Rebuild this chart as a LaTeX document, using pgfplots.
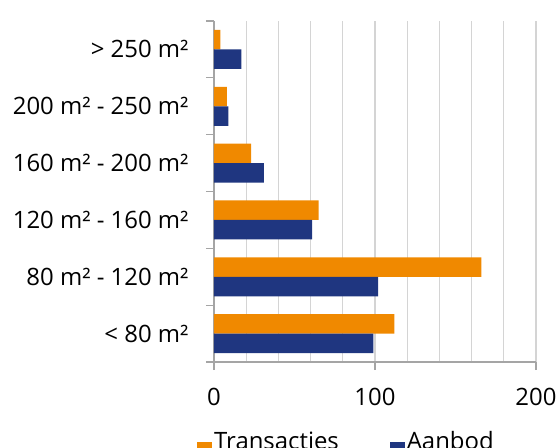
\documentclass[border=0pt]{standalone}
\usepackage{fontspec}
\setmainfont{Open Sans}
\usepackage{pgfplots}
\pgfplotsset{compat=1.18}
\definecolor{trans}{RGB}{240,137,0}
\definecolor{aanb}{RGB}{31,54,128}
\definecolor{gridc}{RGB}{212,212,212}
\definecolor{axisc}{RGB}{165,165,165}
\begin{document}
\begin{tikzpicture}
\begin{axis}[
  at={(0,0)}, anchor=south west,
  scale only axis, width=322bp, height=341bp,
  xbar, bar width=19.5bp,
  xmin=0, xmax=200, ymin=-0.5, ymax=5.5,
  axis x line*=bottom, axis y line*=left,
  axis line style={axisc, line width=1.2bp},
  xtick={0,100,200}, minor xtick={20,40,60,80,120,140,160,180},
  xmajorgrids, xminorgrids,
  major grid style={gridc, line width=1.2bp},
  minor grid style={gridc, line width=1.2bp},
  ytick={-0.5,0.5,1.5,2.5,3.5,4.5,5.5}, yticklabels={},
  extra y ticks={0,1,2,3,4,5},
  extra y tick labels={{< 80 m²},{80 m² - 120 m²},{120 m² - 160 m²},{160 m² - 200 m²},{200 m² - 250 m²},{> 250 m²}},
  extra y tick style={major tick length=0pt, grid=none},
  tick align=outside, major tick length=8bp, minor tick length=0pt,
  tick style={axisc, line width=1.2bp},
  tick label style={font=\fontsize{24}{28}\selectfont},
  /pgf/number format/assume math mode=true,
  yticklabel style={xshift=-22bp},
  xticklabel style={yshift=-15bp},
  legend columns=2,
  legend style={draw=none, fill=none, inner sep=0pt, font=\fontsize{24}{28}\selectfont,
    at={(rel axis cs:-0.0528,-0.2389)}, anchor=west,
    /tikz/every even column/.append style={column sep=49bp}},
  legend image code/.code={\fill[#1] (0bp,-16bp) rectangle (15bp,-1bp);},
]
\addplot[fill=trans, draw=none, bar shift=9.75bp] coordinates {(112,0) (166,1) (65,2) (23,3) (8,4) (4,5)};
\addlegendentry{Transacties}
\addplot[fill=aanb, draw=none, bar shift=-9.75bp] coordinates {(99,0) (102,1) (61,2) (31,3) (9,4) (17,5)};
\addlegendentry{Aanbod}
\end{axis}
\pgfresetboundingbox
\useasboundingbox (-214bp,-86bp) rectangle (343bp,362bp);
\end{tikzpicture}
\end{document}
